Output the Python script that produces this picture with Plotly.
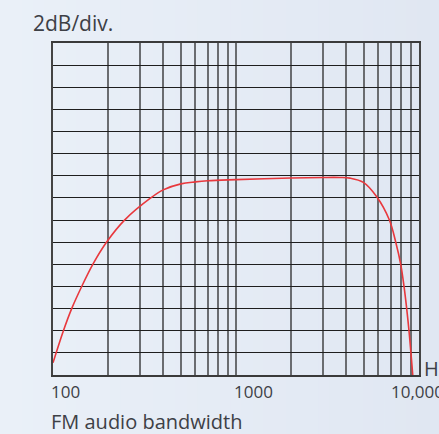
import plotly.graph_objects as go

# Frequency response (Hz, dB relative to flat level)
freq_hz = [100, 114, 126.5, 143.5, 165, 196, 246, 342, 400, 500, 600, 700, 1000,
           2000, 3000, 3700, 4197, 4968, 5875, 6890, 7464, 7946, 8283, 8565, 8817, 9245]
level_db = [-16.9, -14, -12, -10, -8, -6, -4, -2, -1.27, -0.73, -0.55, -0.45, -0.35,
            -0.2, -0.15, -0.15, -0.21, -0.6, -1.9, -4, -6, -8, -10, -12, -14, -18]

grid_freqs = [100, 200, 300, 400, 500, 600, 700, 800, 900,
              1000, 2000, 3000, 4000, 5000, 6000, 7000, 8000, 9000, 10000]
tick_labels = ["100", "1000", "10,000"]
tick_positions = [100, 1000, 10000]

bg_left = (234, 240, 248)
bg_right = (224, 231, 242)
bg = "#e6ecf5"
txt = "#3d4046"
font = "Open Sans"

fig = go.Figure()
fig.add_trace(go.Scatter(
    x=freq_hz, y=level_db, mode="lines",
    line=dict(color="#e8383d", width=1.6, shape="spline", smoothing=1.0),
    hoverinfo="skip", showlegend=False,
))

# soft horizontal background gradient (decoration)
plot_w = 439 - 53 - 20
n_strips = 40
x0p = -53 / plot_w
x1p = 1 + 20 / plot_w
shapes = []
for i in range(n_strips):
    t = i / (n_strips - 1)
    c = tuple(round(a + (b - a) * t) for a, b in zip(bg_left, bg_right))
    shapes.append(dict(
        type="rect", xref="paper", yref="paper", layer="below",
        x0=x0p + (x1p - x0p) * i / n_strips, x1=x0p + (x1p - x0p) * (i + 1) / n_strips + 0.002,
        y0=-0.3, y1=1.2, line=dict(width=0),
        fillcolor="rgb(%d,%d,%d)" % c,
    ))

fig.update_xaxes(
    type="log", range=[2, 4],
    tickvals=grid_freqs, showticklabels=False, ticks="",
    showgrid=True, gridcolor="#6a6c70", gridwidth=1.8,
    showline=True, linecolor="#3a3a3a", linewidth=1.8, mirror=True,
    zeroline=False,
)
fig.update_yaxes(
    range=[-18, 12], dtick=2, tick0=0,
    showticklabels=False, ticks="",
    showgrid=True, gridcolor="#1e1e1e", gridwidth=1.3,
    showline=True, linecolor="#444444", linewidth=1.8, mirror=True,
    zeroline=False,
)

annotations = []
anchors = ["left", "left", "center"]
shifts = [-4, -4, -2]
for lab, pos, anc, sh in zip(tick_labels, tick_positions, anchors, shifts):
    annotations.append(dict(
        x=2 if pos == 100 else (3 if pos == 1000 else 4), xref="x",
        y=0, yref="paper", yanchor="top", xanchor=anc, xshift=sh, yshift=-3,
        text=lab, showarrow=False, font=dict(family=font, size=17, color=txt),
    ))
annotations.append(dict(
    x=1.008, xref="paper", y=-17.4, yref="y", xanchor="left", yanchor="middle",
    text="Hz", showarrow=False, font=dict(family=font, size=20, color=txt),
))
annotations.append(dict(
    x=-0.06, xref="paper", y=1.06, yref="paper", xanchor="left", yanchor="middle",
    text="2dB/div.", showarrow=False, font=dict(family=font, size=21, color=txt),
))
annotations.append(dict(
    x=-0.01, xref="paper", y=-0.14, yref="paper", xanchor="left", yanchor="middle",
    text="FM audio bandwidth", showarrow=False, font=dict(family=font, size=20, color=txt),
))

fig.update_layout(
    width=439, height=434,
    margin=dict(l=53, r=20, t=43, b=58.5),
    paper_bgcolor=bg, plot_bgcolor="rgba(0,0,0,0)",
    annotations=annotations, shapes=shapes,
)

fig.write_html(
    "out.html",
    config={"displayModeBar": False},
    post_script="document.body.style.margin='0';document.body.style.overflow='hidden';"
                "document.body.style.background='" + bg + "';",
)
